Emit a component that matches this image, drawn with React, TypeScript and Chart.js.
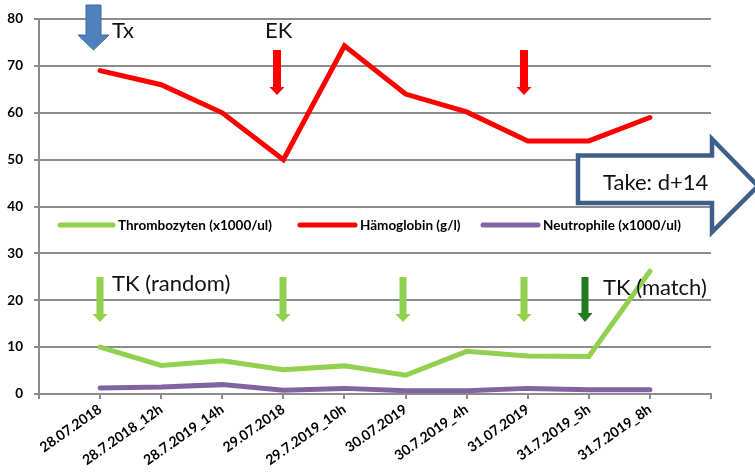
import React, { useEffect, useRef } from "react";
import { Chart, registerables } from "chart.js";

Chart.register(...registerables);

const categories = [
  "28.07.2018",
  "28.7.2018_12h",
  "28.7.2019_14h",
  "29.07.2018",
  "29.7.2019_10h",
  "30.07.2019",
  "30.7.2019_4h",
  "31.07.2019",
  "31.7.2019_5h",
  "31.7.2019_8h",
];
const thrombozyten = [10, 6.1, 7.1, 5.2, 6, 4, 9.1, 8.1, 8, 26.2];
const haemoglobin = [69, 66, 60, 50, 74.3, 64, 60.2, 54, 54, 59];
const neutrophile = [1.3, 1.5, 2.0, 0.8, 1.2, 0.7, 0.7, 1.2, 0.9, 0.9];
const seriesLabels = ["Thrombozyten (x1000/ul)", "Hämoglobin (g/l)", "Neutrophile (x1000/ul)"];
const seriesColors = ["#92D050", "#FF0000", "#8064A2"];
const yMin = 0;
const yMax = 80;
const yStep = 10;

const GRID = "#8c8c8c";
const FONT = "Lato, 'Open Sans', sans-serif";

const pad = (arr: number[]) => [null, ...arr, null];

function downArrow(ctx: CanvasRenderingContext2D, cx: number, top: number, tip: number, bodyW: number, headW: number, headH: number, fill: string, stroke?: string) {
  ctx.save();
  ctx.beginPath();
  ctx.moveTo(cx - bodyW / 2, top);
  ctx.lineTo(cx + bodyW / 2, top);
  ctx.lineTo(cx + bodyW / 2, tip - headH);
  ctx.lineTo(cx + headW / 2, tip - headH);
  ctx.lineTo(cx, tip);
  ctx.lineTo(cx - headW / 2, tip - headH);
  ctx.lineTo(cx - bodyW / 2, tip - headH);
  ctx.closePath();
  ctx.fillStyle = fill;
  ctx.fill();
  if (stroke) {
    ctx.strokeStyle = stroke;
    ctx.lineWidth = 1;
    ctx.stroke();
  }
  ctx.restore();
}

const overlayPlugin = {
  id: "overlay",
  afterDraw(chart: any) {
    const ctx: CanvasRenderingContext2D = chart.ctx;
    // Legend inside plot
    const legendY = 225;
    const items = [
      { x0: 60, x1: 113, tx: 118 },
      { x0: 300, x1: 355, tx: 360 },
      { x0: 483, x1: 538, tx: 543 },
    ];
    ctx.save();
    ctx.font = `bold 13.5px ${FONT}`;
    ctx.textBaseline = "middle";
    ctx.textAlign = "left";
    items.forEach((it, i) => {
      ctx.strokeStyle = seriesColors[i];
      ctx.lineWidth = 5;
      ctx.lineCap = "round";
      ctx.beginPath();
      ctx.moveTo(it.x0, legendY);
      ctx.lineTo(it.x1, legendY);
      ctx.stroke();
      ctx.fillStyle = "#000";
      ctx.fillText(chart.data.datasets[i].label, it.tx, legendY + 1);
    });
    ctx.restore();

    // Tx block arrow
    downArrow(ctx, 93.5, 5, 50, 15, 31, 15, "#4F81BD", "#3A6A9E");
    // EK red arrows
    downArrow(ctx, 277, 50, 95, 8, 15, 8, "#FF0000");
    downArrow(ctx, 524, 50, 95, 8, 15, 8, "#FF0000");
    // TK green arrows
    [100, 283, 403, 524].forEach((x) => downArrow(ctx, x, 277, 322, 7, 15, 8, "#92D050"));
    downArrow(ctx, 585, 277, 322, 7, 15, 9, "#217A21");

    // Big hollow arrow
    ctx.save();
    ctx.beginPath();
    ctx.moveTo(578, 155.5);
    ctx.lineTo(712, 155.5);
    ctx.lineTo(712, 139);
    ctx.lineTo(758, 186);
    ctx.lineTo(712, 232);
    ctx.lineTo(712, 203);
    ctx.lineTo(578, 203);
    ctx.closePath();
    ctx.fillStyle = "#ffffff";
    ctx.fill();
    ctx.strokeStyle = "#3E5F8A";
    ctx.lineWidth = 4.5;
    ctx.lineJoin = "miter";
    ctx.stroke();
    ctx.restore();

    // Texts
    ctx.save();
    ctx.font = `22px ${FONT}`;
    ctx.fillStyle = "#111";
    ctx.textAlign = "left";
    ctx.textBaseline = "alphabetic";
    ctx.fillText("Tx", 112, 38);
    ctx.fillText("EK", 265, 38);
    ctx.fillText("TK (random)", 112, 291);
    ctx.fillText("TK (match)", 603, 295);
    ctx.fillText("Take: d+14", 603, 190);
    ctx.restore();
  },
};

export default function App() {
  const ref = useRef<HTMLCanvasElement>(null);
  useEffect(() => {
    let chart: Chart | null = null;
    let cancelled = false;
    const make = () => {
      if (cancelled || !ref.current) return;
      chart = new Chart(ref.current, {
        type: "line",
        data: {
          labels: ["", ...categories, ""],
          datasets: [
            { label: seriesLabels[0], data: pad(thrombozyten) as any, borderColor: seriesColors[0], backgroundColor: seriesColors[0] },
            { label: seriesLabels[1], data: pad(haemoglobin) as any, borderColor: seriesColors[1], backgroundColor: seriesColors[1] },
            { label: seriesLabels[2], data: pad(neutrophile) as any, borderColor: seriesColors[2], backgroundColor: seriesColors[2] },
          ].map((d) => ({
            ...d,
            borderWidth: 5,
            pointRadius: 0,
            pointHoverRadius: 0,
            tension: 0,
            borderCapStyle: "round" as const,
            borderJoinStyle: "miter" as const,
            spanGaps: false,
          })),
        },
        options: {
          responsive: false,
          animation: false,
          events: [],
          layout: { padding: { top: 18, right: 44, left: 0, bottom: 0 } },
          plugins: { legend: { display: false }, tooltip: { enabled: false }, title: { display: false } },
          scales: {
            x: {
              type: "category",
              offset: false,
              grid: { drawOnChartArea: false, drawTicks: true, tickLength: 5, color: GRID, lineWidth: 2 },
              border: { display: true, color: GRID, width: 2 },
              ticks: {
                autoSkip: false,
                maxRotation: 35,
                minRotation: 35,
                padding: 2,
                color: "#000",
                font: { family: FONT, weight: "bold", size: 14 },
              },
              afterFit: (s: any) => {
                s.height = 80;
              },
            },
            y: {
              min: yMin,
              max: yMax,
              grid: { color: GRID, lineWidth: 2, tickLength: 5, drawTicks: true },
              border: { display: true, color: GRID, width: 2 },
              ticks: {
                stepSize: yStep,
                padding: 11,
                color: "#000",
                font: { family: FONT, weight: "bold", size: 13.5 },
              },
              afterFit: (s: any) => {
                s.width = 39;
              },
            },
          },
        },
        plugins: [overlayPlugin],
      } as any);
    };
    const fontsReady = (document as any).fonts
      ? Promise.all([
          (document as any).fonts.load(`bold 13px Lato`),
          (document as any).fonts.load(`20px Lato`),
        ]).catch(() => null)
      : Promise.resolve(null);
    fontsReady.then(make);
    return () => {
      cancelled = true;
      if (chart) chart.destroy();
    };
  }, []);
  return (
    <div style={{ position: "fixed", left: 0, top: 0, width: 755, height: 474, background: "#fff" }}>
      <canvas ref={ref} width={755} height={474} style={{ display: "block", width: 755, height: 474 }} />
    </div>
  );
}
